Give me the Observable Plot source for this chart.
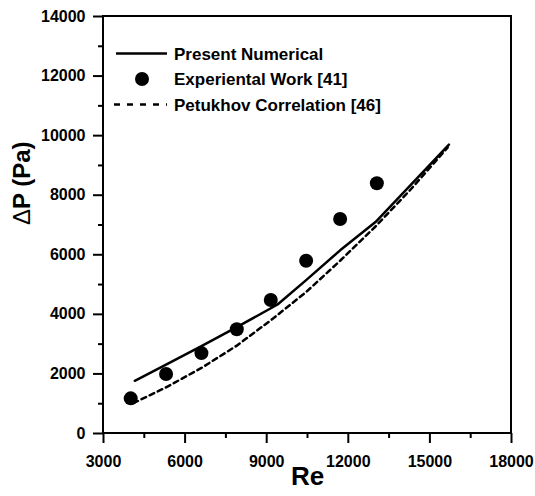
<!DOCTYPE html>
<html><head><meta charset="utf-8">
<script src="https://cdn.jsdelivr.net/npm/d3@7"></script>
<script src="https://cdn.jsdelivr.net/npm/@observablehq/plot@0.6"></script>
<style>body{margin:0;background:#fff}</style>
</head><body><div id="chart"></div>
<script>
// Experimental data [41]
const reExp = [4000, 5300, 6600, 7900, 9150, 10450, 11700, 13050];
const dpExp = [1180, 2000, 2700, 3500, 4480, 5800, 7200, 8400];
// Present numerical
const reNum = [4150, 5300, 6600, 7900, 9400, 10450, 11700, 13000, 15700];
const dpNum = [1770, 2310, 2930, 3570, 4330, 5150, 6150, 7100, 9700];
// Petukhov correlation [46]
const rePet = [4100, 5300, 6600, 7900, 9150, 10450, 11700, 13000, 14300, 15650];
const dpPet = [1020, 1550, 2200, 2950, 3800, 4750, 5800, 6950, 8200, 9600];
const seriesNames = ["Present Numerical", "Experiental Work [41]", "Petukhov Correlation [46]"];
const xDomain = [3000, 18000];
const yDomain = [0, 14000];
const xTicks = [3000, 6000, 9000, 12000, 15000, 18000];
const xMinor = [4500, 7500, 10500, 13500, 16500];
const yTicks = [0, 2000, 4000, 6000, 8000, 10000, 12000, 14000];
const yMinor = [1000, 3000, 5000, 7000, 9000, 11000, 13000];
const xLabel = "Re";
const yLabel = "ΔP (Pa)";

const exp = reExp.map((re, i) => ({re, dp: dpExp[i]}));
const num = reNum.map((re, i) => ({re, dp: dpNum[i]}));
const pet = rePet.map((re, i) => ({re, dp: dpPet[i]}));

const chart = Plot.plot({
  width: 535, height: 496,
  marginLeft: 103, marginRight: 24, marginTop: 16, marginBottom: 63,
  style: {fontFamily: "'Liberation Sans', Arial, sans-serif", fontWeight: "bold", fontSize: "16px", color: "#000", background: "#fff"},
  x: {domain: xDomain},
  y: {domain: yDomain},
  marks: [
    Plot.line(pet, {x: "re", y: "dp", stroke: "#000", strokeWidth: 2.5, strokeDasharray: "5,4"}),
    Plot.line(num, {x: "re", y: "dp", stroke: "#000", strokeWidth: 2.5}),
    Plot.dot(exp, {x: "re", y: "dp", r: 7, fill: "#000", stroke: null}),
    Plot.axisX(xTicks, {tickSize: 10, tickPadding: 12, strokeWidth: 2, tickFormat: d => String(d), label: null, fontSize: 16}),
    Plot.axisX(xMinor, {tickSize: 5, strokeWidth: 2, tickFormat: () => "", label: null}),
    Plot.axisY(yTicks, {tickSize: 10, tickPadding: 8, strokeWidth: 2, tickFormat: d => String(d), label: null, fontSize: 16}),
    Plot.axisY(yMinor, {tickSize: 5, strokeWidth: 2, tickFormat: () => "", label: null}),
    Plot.text([xLabel], {text: d => d, frameAnchor: "bottom", dy: 51, fontSize: 26, fontWeight: "bold"}),
    Plot.text([yLabel], {text: d => d, frameAnchor: "left", dx: -81, rotate: -90, fontSize: 24, fontWeight: "bold"})
  ]
});
document.getElementById("chart").appendChild(chart);

const svg = d3.select(chart);

// plot box from the chart's own x and y scales
const sx = chart.scale("x"), sy = chart.scale("y");
const bx0 = sx.apply(xDomain[0]), bx1 = sx.apply(xDomain[1]);
const by0 = sy.apply(yDomain[1]), by1 = sy.apply(yDomain[0]);
svg.append("rect")
  .attr("x", Math.min(bx0, bx1)).attr("y", Math.min(by0, by1))
  .attr("width", Math.abs(bx1 - bx0)).attr("height", Math.abs(by1 - by0))
  .attr("fill", "none").attr("stroke", "#000").attr("stroke-width", 2);

// thin delta glyph like the reference
svg.selectAll("text").filter(function() { return this.textContent === yLabel; }).each(function() {
  const t = d3.select(this);
  t.text(null);
  t.append("tspan").attr("font-weight", "normal").text(yLabel.slice(0, 1));
  t.append("tspan").text(yLabel.slice(1));
});

// legend
const lg = svg.append("g").attr("font-size", 17).attr("font-weight", "bold")
  .attr("font-family", "'Liberation Sans', Arial, sans-serif").attr("text-anchor", "start");
const rows = [53.5, 79, 104.5];
lg.append("line").attr("x1", 116).attr("x2", 167).attr("y1", rows[0]).attr("y2", rows[0]).attr("stroke", "#000").attr("stroke-width", 2.5);
lg.append("circle").attr("cx", 142).attr("cy", rows[1]).attr("r", 7).attr("fill", "#000");
lg.append("line").attr("x1", 114).attr("x2", 167).attr("y1", rows[2]).attr("y2", rows[2]).attr("stroke", "#000").attr("stroke-width", 2.5).attr("stroke-dasharray", "6,7");
seriesNames.forEach((s, i) => {
  lg.append("text").attr("x", 174).attr("y", rows[i]).attr("dy", "0.36em").attr("text-anchor", "start").text(s);
});
</script>
</body></html>
